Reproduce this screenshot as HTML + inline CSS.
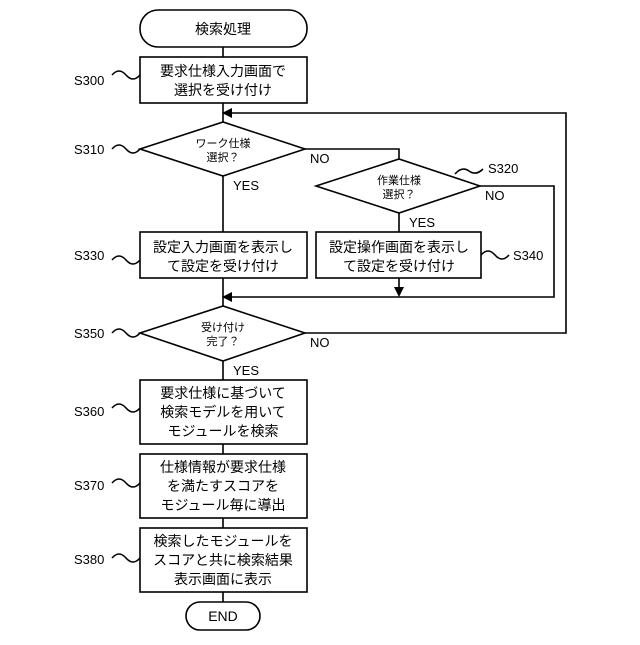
<!DOCTYPE html>
<html><head><meta charset="utf-8"><style>
body{margin:0;background:#fff}
svg text{font-family:"Liberation Sans","Noto Sans CJK JP",sans-serif;fill:#000}
</style></head><body>
<svg width="640" height="640" viewBox="0 0 640 640" xmlns="http://www.w3.org/2000/svg">
<g fill="none" stroke="#000" stroke-width="1.6">
<rect x="140" y="10" width="167" height="37" rx="18"/>
<rect x="140" y="57" width="167" height="46"/>
<polygon points="140,149 223,122 305,149 223,176"/>
<polygon points="316,186 399,159 480,186 399,213"/>
<rect x="140" y="232" width="167" height="46"/>
<rect x="316" y="232" width="165" height="46"/>
<polygon points="140,333 223,306 305,333 223,361"/>
<rect x="140" y="380" width="167" height="64"/>
<rect x="140" y="454" width="167" height="64"/>
<rect x="140" y="528" width="167" height="64"/>
<rect x="186" y="602" width="74" height="28" rx="14"/>
<path d="M223 47V57M223 103V122M223 176V232M223 278V306M223 361V380M223 444V454M223 518V528M223 592V602"/>
<path d="M305 149H399V159M399 213V232M399 278V290"/>
<path d="M480 186H554V297H230"/>
<path d="M305 333H566V113H230"/>
<path d="M112 75q7-8 14 0t14 0M112 149q7-8 14 0t14 0M112 260q7-8 14 0t14 0M112 333q7-8 14 0t14 0M112 408q7-8 14 0t14 0M112 483q7-8 14 0t14 0M112 558q7-8 14 0t14 0"/>
<path d="M455 174q7-8 14-3t14-2M481 255q7-8 14 0t14 0"/>
</g>
<g fill="#000">
<polygon points="222,113 232,108 232,118"/>
<polygon points="222,297 232,292 232,302"/>
<polygon points="399,297 394,287 404,287"/>
</g>
<g font-size="14" text-anchor="middle">
<text x="223" y="34">検索処理</text>
<text x="223" y="76">要求仕様入力画面で</text>
<text x="223" y="95">選択を受け付け</text>
<text x="223" y="252">設定入力画面を表示し</text>
<text x="223" y="271">て設定を受け付け</text>
<text x="399" y="252">設定操作画面を表示し</text>
<text x="399" y="271">て設定を受け付け</text>
<text x="223" y="398">要求仕様に基づいて</text>
<text x="223" y="417">検索モデルを用いて</text>
<text x="223" y="436">モジュールを検索</text>
<text x="223" y="472">仕様情報が要求仕様</text>
<text x="223" y="491">を満たすスコアを</text>
<text x="223" y="510">モジュール毎に導出</text>
<text x="223" y="546">検索したモジュールを</text>
<text x="223" y="565">スコアと共に検索結果</text>
<text x="223" y="584">表示画面に表示</text>
<text x="223" y="621">END</text>
</g>
<g font-size="11" text-anchor="middle">
<text x="223" y="147">ワーク仕様</text>
<text x="223" y="161">選択？</text>
<text x="399" y="184">作業仕様</text>
<text x="399" y="198">選択？</text>
<text x="223" y="331">受け付け</text>
<text x="223" y="345">完了？</text>
</g>
<g font-size="13">
<text x="74" y="85">S300</text>
<text x="74" y="154">S310</text>
<text x="488" y="173">S320</text>
<text x="74" y="260">S330</text>
<text x="513" y="260">S340</text>
<text x="74" y="338">S350</text>
<text x="74" y="416">S360</text>
<text x="74" y="490">S370</text>
<text x="74" y="564">S380</text>
<text x="310" y="163">NO</text>
<text x="485" y="200">NO</text>
<text x="310" y="347">NO</text>
<text x="233" y="190">YES</text>
<text x="409" y="227">YES</text>
<text x="233" y="375">YES</text>
</g>
</svg>
</body></html>
